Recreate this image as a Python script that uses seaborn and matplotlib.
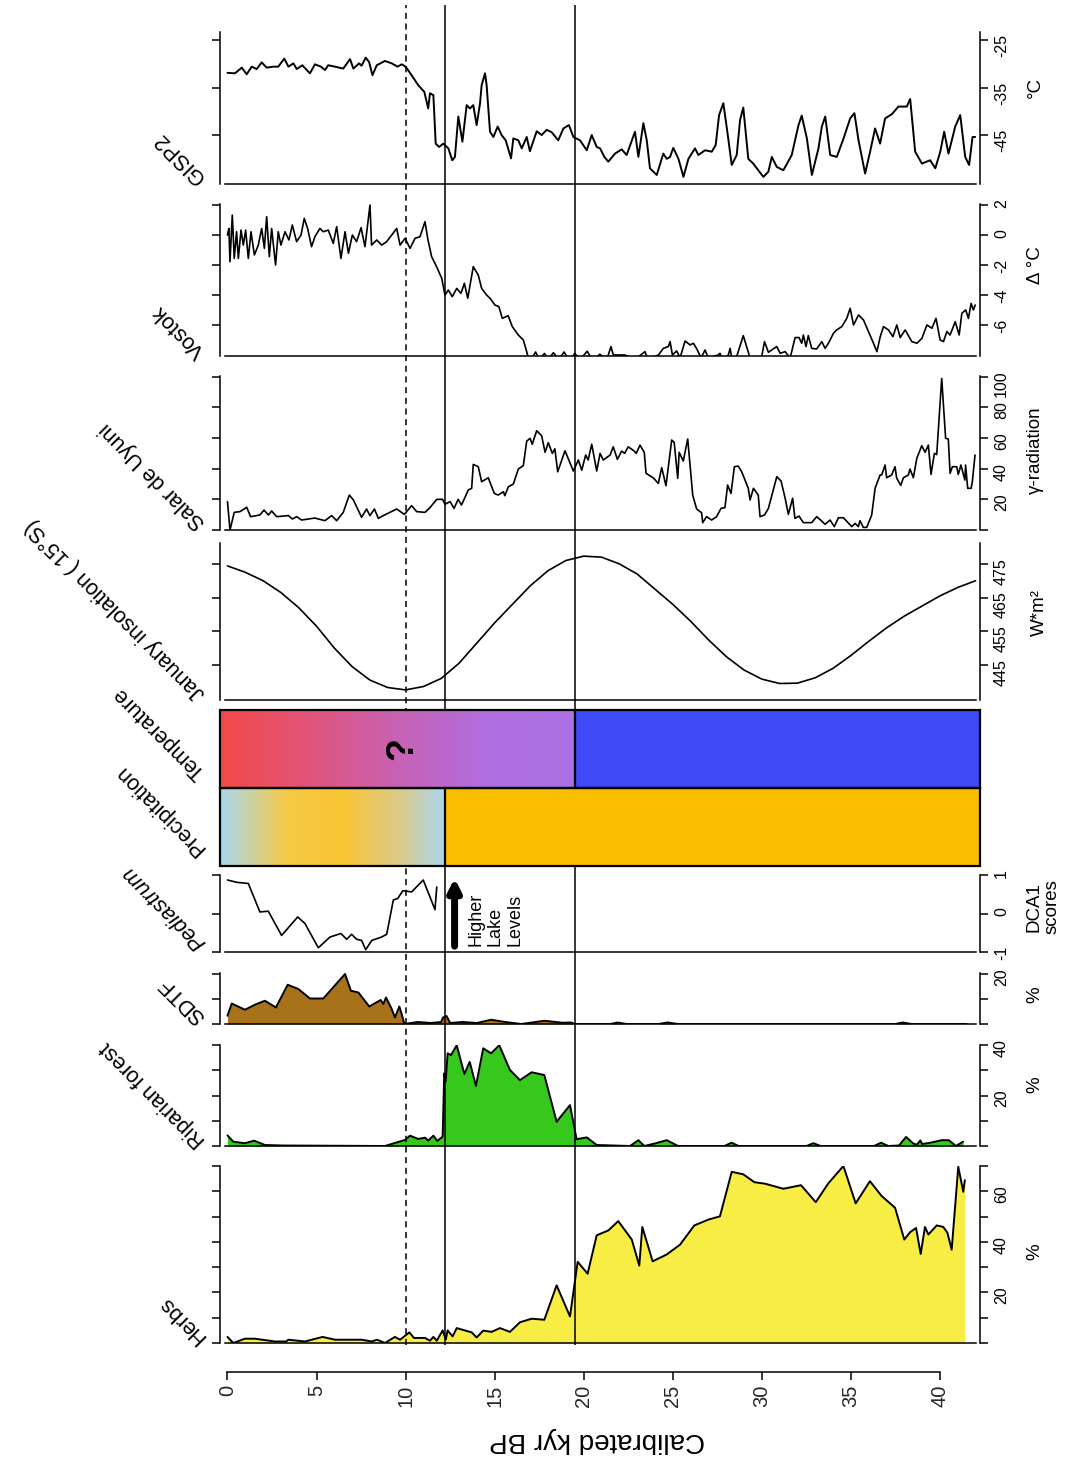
import numpy as np
import matplotlib
matplotlib.use("Agg")
import matplotlib.pyplot as plt
from matplotlib.colors import LinearSegmentedColormap
from matplotlib.patches import Rectangle
import seaborn as sns

# ---------------------------------------------------------------- data (kyr BP)
gisp2_age = [0, 0.42, 0.8, 1.08, 1.36, 1.64, 1.92, 2.2, 2.57, 2.85, 3.19, 3.42, 3.7, 3.89, 4.2,
             4.63, 4.91, 5.25, 5.47, 5.66, 6.04, 6.5, 6.88, 7.07, 7.39, 7.53, 7.76, 7.95, 8.14,
             8.38, 8.84, 9.22, 9.55, 9.78, 10.0, 10.34, 10.71, 11.05, 11.27, 11.37, 11.56, 11.69,
             11.88, 12.12, 12.4, 12.62, 12.77, 12.96, 13.19, 13.43, 13.61, 13.8, 13.99, 14.18,
             14.27, 14.46, 14.55, 14.74, 14.93, 15.17, 15.39, 15.62, 15.92, 16.05, 16.33, 16.52,
             16.8, 16.98, 17.36, 17.64, 17.92, 18.2, 18.57, 18.86, 19.17, 19.42, 19.79, 20.17,
             20.45, 20.73, 20.92, 21.16, 21.38, 21.76, 22.13, 22.41, 22.88, 23.07, 23.35, 23.54,
             23.72, 24.1, 24.47, 24.66, 24.85, 25.03, 25.32, 25.6, 25.88, 26.25, 26.44, 26.81,
             27.19, 27.41, 27.6, 27.84, 28.09, 28.31, 28.59, 28.78, 28.96, 29.24, 29.52, 29.8,
             30.09, 30.37, 30.56, 30.84, 31.21, 31.68, 32.06, 32.24, 32.53, 32.81, 33.18, 33.37,
             33.56, 33.84, 34.21, 34.59, 34.96, 35.2, 35.43, 35.8, 36.08, 36.36, 36.64, 36.92,
             37.3, 37.67, 38.14, 38.33, 38.61, 38.99, 39.45, 39.74, 40.02, 40.24, 40.48, 40.86,
             41.14, 41.42, 41.64, 41.83, 41.98]
gisp2_temp = [-31.9, -32.0, -30.8, -32.2, -30.6, -31.1, -29.7, -30.8, -30.6, -30.6, -28.9, -30.6,
              -29.9, -31.1, -30.3, -32.0, -30.1, -30.6, -31.3, -30.3, -30.6, -31.0, -29.0, -31.0,
              -29.9, -30.4, -28.7, -29.6, -32.4, -30.3, -29.4, -29.9, -30.6, -30.1, -30.6, -32.4,
              -34.5, -35.9, -39.4, -36.2, -36.6, -46.8, -47.5, -46.8, -47.8, -50.3, -49.6, -41.1,
              -46.4, -38.7, -39.4, -38.7, -42.9, -38.3, -34.5, -32.0, -34.5, -44.3, -45.4, -43.2,
              -45.0, -46.1, -49.9, -45.7, -46.1, -47.8, -45.4, -48.4, -44.2, -45.0, -43.9, -44.4,
              -46.1, -43.6, -42.9, -45.4, -46.1, -48.2, -45.0, -47.5, -47.8, -49.6, -50.6, -48.9,
              -48.0, -49.2, -44.3, -49.6, -42.5, -46.1, -52.0, -53.4, -48.9, -50.0, -49.6, -47.7,
              -50.0, -53.8, -50.0, -47.8, -49.2, -48.2, -48.5, -47.1, -40.8, -38.3, -45.0, -51.3,
              -49.2, -41.8, -39.2, -50.0, -51.0, -52.4, -53.8, -52.7, -49.6, -51.7, -52.4, -49.2,
              -42.9, -40.9, -45.7, -53.4, -47.8, -43.2, -41.1, -49.2, -49.6, -45.7, -41.5, -40.4,
              -46.1, -53.1, -48.5, -43.6, -46.8, -41.5, -40.6, -39.0, -39.0, -37.4, -48.5, -51.0,
              -50.3, -52.0, -48.5, -44.3, -48.9, -43.2, -40.8, -49.6, -51.3, -45.4, -45.4]

vostok_age = [0, 0.08, 0.14, 0.27, 0.38, 0.51, 0.61, 0.76, 0.89, 1.02, 1.17, 1.32, 1.51, 1.73,
              1.92, 2.07, 2.2, 2.35, 2.48, 2.7, 2.85, 3.0, 3.23, 3.45, 3.64, 3.88, 4.13, 4.31, 4.5,
              4.72, 4.91, 5.19, 5.38, 5.66, 5.94, 6.13, 6.37, 6.6, 6.79, 7.01, 7.25, 7.5, 7.72, 8.0,
              8.09, 8.38, 8.66, 8.94, 9.22, 9.5, 9.69, 9.97, 10.25, 10.53, 10.81, 11.09, 11.24,
              11.46, 11.74, 12.03, 12.21, 12.4, 12.62, 12.87, 13.11, 13.3, 13.49, 13.8, 14.08,
              14.27, 14.55, 14.74, 15.02, 15.24, 15.43, 15.76, 15.99, 16.33, 16.61, 16.8, 16.89,
              17.0, 17.3, 17.5, 17.8, 18.0, 18.3, 18.6, 18.9, 19.2, 19.5, 19.8, 20.2, 20.5, 20.9,
              21.3, 21.53, 21.66, 22.3, 22.88, 23.44, 23.6, 24.2, 24.47, 24.75, 24.85, 24.98,
              25.22, 25.41, 25.69, 25.97, 26.16, 26.35, 26.59, 26.81, 27.0, 27.56, 27.65, 27.8,
              28.12, 28.22, 28.31, 28.59, 28.96, 29.34, 29.98, 30.15, 30.37, 30.84, 31.03, 31.31,
              31.59, 31.87, 32.09, 32.24, 32.33, 32.48, 32.61, 32.8, 33.08, 33.37, 33.55, 33.74,
              34.02, 34.2, 34.49, 34.77, 34.96, 35.15, 35.43, 35.71, 35.99, 36.27, 36.46, 36.65,
              36.83, 37.11, 37.36, 37.58, 37.77, 38.05, 38.42, 38.71, 38.99, 39.27, 39.55, 39.78,
              40.01, 40.2, 40.39, 40.57, 40.86, 41.08, 41.23, 41.45, 41.6, 41.75, 41.88, 41.98]
vostok_dt = [0, 0.44, -1.78, 1.33, -1.56, 0.22, -1.56, 0.33, -0.67, 0.33, -1.56, 0.22, -1.33,
             -0.67, 0.44, -0.89, 1.22, -1.44, 0.44, -2.0, 0.22, -0.67, 0.22, -0.33, 0.67, -0.44,
             0.0, 1.11, 0.44, -0.78, -0.11, 0.44, 0.22, 0.33, -0.56, 0.56, -1.56, 0.22, -1.22, 0.0,
             -0.44, 0.49, -0.78, 2.0, -0.67, -0.33, -0.67, -0.44, 0.0, 0.44, -0.67, -0.22, -0.89,
             -0.22, -0.11, 0.89, -0.22, -1.44, -2.11, -2.89, -4.0, -3.67, -4.11, -3.56, -3.89,
             -3.22, -4.22, -2.11, -2.67, -3.56, -4.0, -4.22, -4.67, -4.78, -5.56, -5.38, -6.11,
             -6.67, -7.0, -7.78, -8.22, -8.4, -7.8, -8.3, -7.9, -8.3, -7.85, -8.3, -7.8, -8.4,
             -7.9, -8.3, -7.75, -8.4, -7.95, -8.3, -7.44, -8.0, -8.0, -8.3, -7.78, -8.3, -8.0,
             -7.56, -7.44, -7.11, -8.0, -7.73, -8.2, -7.07, -7.33, -7.22, -7.6, -8.2, -7.67, -8.2,
             -8.0, -7.89, -8.3, -8.0, -7.56, -8.2, -8.1, -6.71, -8.2, -8.2, -7.11, -7.82, -7.44,
             -7.89, -7.78, -8.2, -6.84, -6.84, -7.22, -6.67, -7.44, -6.71, -7.56, -7.6, -7.11,
             -7.56, -7.22, -6.56, -6.33, -6.11, -5.56, -4.89, -6.0, -5.33, -5.67, -6.44, -7.22,
             -7.78, -6.78, -6.11, -6.33, -6.78, -6.0, -6.84, -6.33, -7.11, -7.22, -6.89, -6.0,
             -6.22, -5.56, -7.0, -7.11, -6.44, -6.67, -5.78, -6.67, -5.22, -5.0, -5.56, -4.56,
             -5.0, -4.67]

uyuni_age = [0, 0.14, 0.38, 0.7, 1.08, 1.3, 1.82, 2.05, 2.3, 2.48, 2.76, 3.42, 3.64, 3.89, 4.16,
             4.9, 5.47, 5.85, 6.13, 6.5, 6.84, 7.07, 7.53, 7.81, 8.0, 8.25, 8.47, 8.75, 9.5, 9.93,
             10.34, 10.62, 11.09, 11.37, 11.75, 12.08, 12.21, 12.5, 12.72, 12.95, 13.14, 13.52,
             13.71, 13.8, 14.08, 14.27, 14.64, 14.98, 15.2, 15.49, 15.57, 15.77, 16.05, 16.33,
             16.61, 16.8, 16.99, 17.11, 17.36, 17.64, 17.83, 18.01, 18.24, 18.38, 18.54, 18.95,
             19.42, 19.7, 19.89, 20.11, 20.25, 20.45, 20.73, 20.92, 21.1, 21.48, 21.66, 21.89,
             22.13, 22.3, 22.5, 22.82, 22.95, 23.16, 23.4, 23.5, 23.92, 24.19, 24.38, 24.62,
             24.94, 25.08, 25.28, 25.36, 25.59, 25.84, 26.12, 26.34, 26.62, 26.68, 26.9, 27.18,
             27.46, 27.71, 27.93, 28.08, 28.27, 28.46, 28.68, 28.87, 29.24, 29.34, 29.53, 29.8,
             29.9, 30.15, 30.37, 30.84, 31.08, 31.31, 31.49, 31.73, 31.86, 32.09, 32.33, 32.8,
             33.08, 33.36, 33.55, 33.83, 34.07, 34.3, 34.58, 35.05, 35.24, 35.42, 35.51, 35.7,
             35.89, 36.17, 36.36, 36.64, 36.73, 36.92, 37.01, 37.29, 37.48, 37.57, 37.8, 37.95,
             38.23, 38.32, 38.51, 38.7, 38.98, 39.17, 39.35, 39.5, 39.69, 39.82, 40.1, 40.32,
             40.47, 40.57, 40.7, 40.94, 41.03, 41.18, 41.4, 41.44, 41.56, 41.75, 41.82, 41.97]
uyuni_gamma = [18.5, 0, 11.5, 12, 14.8, 8.7, 9.8, 13, 9.8, 12.4, 8.7, 9.4, 7.2, 8.7, 6.5, 7.8,
               6.1, 9.4, 6.1, 11.5, 22.8, 19.6, 8.3, 13.7, 9.4, 13.7, 7.6, 9.4, 13.7, 10.2, 15.9,
               12, 11.5, 14.6, 20, 20, 16.8, 18.5, 14.1, 20, 16.3, 26.1, 27.2, 42.8, 41.3, 31.5,
               34.1, 23.9, 22.8, 25, 22.4, 28.2, 30, 39.8, 42, 58, 59.8, 55.9, 64.8, 61.5, 50.7,
               57, 50, 53, 38, 51.7, 38.5, 45.7, 39, 48.9, 45.7, 56, 38.5, 50, 45.7, 48.9, 54.3,
               46.1, 51.5, 50, 54.3, 51.7, 50, 55.4, 50.7, 37, 33.9, 30.4, 40.7, 28.9, 58.7, 57.2,
               33.7, 50.7, 45, 59.4, 22.8, 13.7, 11.3, 4.8, 8.7, 6.5, 8.7, 14.1, 14.6, 29.3, 23.9,
               41.3, 41.7, 38, 27.2, 19.6, 27.2, 22.8, 8.7, 9.8, 14.1, 34.8, 32, 20.7, 10.2, 20.7,
               7.6, 9.1, 4.8, 4.8, 8.7, 5.9, 3.7, 6.5, 2.2, 8.0, 8.0, 2.2, 4.3, 2.2, 6.1, 1.7, 1.7,
               9.8, 27.2, 35.9, 35.9, 42.4, 34.1, 35.9, 41.3, 33.9, 29.1, 34.1, 35.9, 39.8, 34.1,
               46.7, 55, 50.7, 55.4, 36.3, 50, 49.2, 98.9, 59.8, 59.4, 37, 41.3, 41.3, 36.3, 42.4,
               32.6, 42.4, 27.2, 27.2, 31.5, 48.9]

insol_age = list(range(0, 43))
insol_wm2 = [474.4, 472.5, 470.0, 466.5, 462.0, 456.5, 450.0, 444.5, 440.5, 438.3, 437.6, 438.6,
             441.0, 445.5, 451.5, 457.5, 463.0, 468.5, 473.0, 476.0, 477.3, 477.0, 475.0, 472.0,
             467.5, 463.0, 458.0, 452.5, 447.5, 443.5, 440.8, 439.5, 439.6, 441.2, 444.0, 447.8,
             452.0, 456.0, 459.5, 462.5, 465.5, 468.0, 470.0]

temp_change_age = 19.5      # warm/transitional vs. cold
precip_change_age = 12.2    # variable vs. wet

pedi_age = [0, 0.52, 1.17, 1.82, 2.29, 3.04, 3.94, 4.35, 5.10, 5.76, 6.37, 6.69, 6.97, 7.25,
            7.53, 7.76, 8.10, 8.66, 8.94, 9.31, 9.56, 9.84, 10.06, 10.34, 10.99, 11.37, 11.65,
            11.75]
pedi_dca1 = [0.87, 0.81, 0.78, 0.04, 0.06, -0.57, -0.09, -0.26, -0.89, -0.61, -0.52, -0.67,
             -0.54, -0.67, -0.70, -0.94, -0.70, -0.61, -0.54, 0.35, 0.39, 0.59, 0.58, 0.56, 0.87,
             0.43, 0.10, 0.69]

sdtf_age = [0, 0.24, 0.98, 1.54, 2.1, 2.72, 3.38, 3.98, 4.63, 5.38, 6.6, 6.93, 7.35, 7.96, 8.6,
            8.75, 8.9, 9.22, 9.4, 9.65, 9.78, 9.93, 10.7, 11.4, 12.0, 12.1, 12.3, 12.5, 13.2, 14.0,
            14.8, 15.6, 16.5, 17.8, 18.8, 19.3, 19.5, 21.5, 21.9, 22.4, 24.2, 24.7, 25.3, 37.5,
            37.9, 38.4, 41.5]
sdtf_pct = [3.3, 8.2, 5.7, 7.7, 9.3, 6.6, 15.7, 14.0, 10.2, 10.2, 20.0, 13.3, 12.6, 7.0, 9.6,
            8.0, 10.6, 6.0, 2.6, 7.0, 4.0, 0.0, 0.8, 0.4, 0.8, 2.6, 3.2, 0.4, 0.8, 0.4, 1.7, 0.8,
            0.0, 1.3, 0.5, 0.6, 0.0, 0.0, 0.6, 0.0, 0.0, 0.6, 0.0, 0.0, 0.6, 0.0, 0.0]

ripa_age = [0, 0.33, 0.98, 1.5, 2.1, 3.1, 8.84, 9.97, 10.25, 10.7, 11.1, 11.27, 11.56, 11.78,
            12.08, 12.17, 12.25, 12.36, 12.55, 12.87, 13.3, 13.6, 13.95, 14.36, 14.8, 15.26, 15.86,
            16.42, 17.08, 17.79, 18.48, 19.23, 19.6, 20.17, 20.73, 22.6, 23.07, 23.4, 24.0, 24.66,
            25.3, 27.9, 28.3, 28.7, 32.5, 32.9, 33.3, 36.3, 36.7, 37.1, 37.7, 38.1, 38.5, 38.7,
            38.9, 39.0, 39.4, 40.1, 40.5, 40.9, 41.3]
ripa_pct = [4.2, 1.7, 1.1, 2.1, 0.4, 0.2, 0.0, 2.4, 4.1, 2.8, 3.3, 2.1, 4.1, 2.0, 3.7, 28.8, 25.5,
            36.7, 36.0, 39.9, 28.5, 33.3, 23.8, 38.7, 36.7, 39.9, 30.1, 26.1, 29.2, 28.1, 9.6,
            16.2, 2.7, 3.4, 0.4, 0.0, 2.3, 0.0, 1.0, 2.3, 0.0, 0.0, 1.3, 0.0, 0.0, 1.1, 0.0, 0.0,
            1.3, 0.0, 0.2, 3.6, 1.0, 0.5, 2.2, 0.8, 1.2, 2.3, 2.3, 0.0, 1.7]

herbs_age = [0, 0.33, 0.98, 1.54, 2.67, 3.3, 3.41, 4.35, 5.34, 6.04, 7.53, 8.1, 8.4, 8.84, 9.4,
             9.69, 10.21, 10.47, 11.09, 11.37, 11.56, 11.75, 12.08, 12.26, 12.36, 12.64, 12.87,
             13.71, 13.99, 14.36, 14.83, 15.3, 15.86, 16.42, 17.08, 17.79, 18.48, 19.23, 19.66,
             20.22, 20.73, 21.38, 21.94, 22.7, 23.12, 23.29, 23.87, 24.66, 25.41, 26.21, 27.0,
             27.65, 28.31, 28.96, 29.58, 30.18, 31.21, 32.2, 33.03, 33.73, 34.58, 35.27, 36.07,
             36.73, 37.48, 38.0, 38.32, 38.66, 38.92, 39.16, 39.35, 39.82, 40.19, 40.42, 40.66,
             41.03, 41.31, 41.4]
herbs_pct = [2.4, 0.0, 1.7, 1.7, 0.6, 0.6, 1.3, 0.6, 2.4, 1.3, 1.3, 0.6, 1.3, 0.0, 2.4, 1.3, 4.2,
             2.0, 2.0, 0.9, 2.4, 0.9, 5.0, 1.4, 5.0, 2.6, 5.9, 4.2, 2.2, 4.9, 4.4, 5.9, 4.4, 8.2,
             9.6, 9.2, 22.8, 10.5, 32.1, 27.4, 42.6, 44.5, 48.2, 40.9, 30.6, 45.9, 32.3, 35.0,
             38.9, 46.5, 48.8, 50.1, 67.7, 66.7, 63.6, 63.0, 61.0, 62.4, 55.7, 63.1, 70.0, 55.2,
             64.0, 58.1, 53.5, 40.9, 43.8, 45.5, 35.2, 45.9, 42.9, 46.5, 45.9, 43.6, 36.9, 69.7,
             59.8, 64.4]

age_ticks = [0, 5, 10, 15, 20, 25, 30, 35, 40]
zone_lines = [12.2, 19.5]
dashed_line = 10.0

# ---------------------------------------------------------------- figure set-up
W, H = 1069, 1461
sns.set_theme(style="white")
plt.rcParams["font.family"] = ["Liberation Sans", "DejaVu Sans"]
plt.rcParams["axes.linewidth"] = 1.1

fig = plt.figure(figsize=(W / 100, H / 100), dpi=100)
XL, XR = -0.42, 42.25
PX0, PX1 = 220, 980


def fig_x(px):
    return px / W


def fig_y(py):
    return 1 - py / H


def add_strip(top, bottom, z=2):
    ax = fig.add_axes([fig_x(PX0), fig_y(bottom), (PX1 - PX0) / W, (bottom - top) / H],
                      zorder=z)
    ax.set_facecolor("none")
    return ax


def frame(ax, ylim, ticks, labels):
    ax.set_xlim(XL, XR)
    ax.set_ylim(*ylim)
    ax.set_xlabel("")
    ax.set_ylabel("")
    ax.grid(False)
    ax.spines["top"].set_visible(False)
    for s in ("left", "right", "bottom"):
        ax.spines[s].set_visible(True)
        ax.spines[s].set_color("black")
        ax.spines[s].set_linewidth(1.1)
    ax.spines["bottom"].set_bounds(-0.15, 42.05)
    ax.set_xticks([])
    ax.set_yticks(ticks)
    ax.set_yticklabels(labels)
    ax.tick_params(axis="y", which="both", left=True, right=True, labelleft=False,
                   labelright=True, direction="out", length=6, width=1.1, color="black",
                   labelsize=11.5, labelrotation=90, pad=4, labelcolor="black")


def curve(ax, x, y, lw=1.1):
    sns.lineplot(x=x, y=y, ax=ax, color="black", linewidth=lw, estimator=None,
                 sort=False, legend=False)


def filled(ax, x, y, color):
    ax.fill_between(x, y, 0, color=color, linewidth=0)
    curve(ax, x, y, lw=1.4)


# GISP2
ax = add_strip(32, 184)
curve(ax, gisp2_age, gisp2_temp, lw=1.4)
frame(ax, (-55.3, -23.3), [-45, -35, -25], ["-45", "-35", "-25"])

# Vostok
ax = add_strip(204, 356)
curve(ax, vostok_age, vostok_dt, lw=1.2)
frame(ax, (-8.07, 2.07), [-6, -4, -2, 0, 2], ["-6", "-4", "-2", "0", "2"])

# Salar de Uyuni
ax = add_strip(376, 530)
curve(ax, uyuni_age, uyuni_gamma, lw=1.2)
frame(ax, (0, 100.5), [0, 20, 40, 60, 80, 100], ["", "20", "40", "60", "80", "100"])

# January insolation
ax = add_strip(543, 700)
curve(ax, insol_age, insol_wm2, lw=1.2)
frame(ax, (434.6, 481.2), [445, 455, 465, 475], ["445", "455", "465", "475"])

# Pediastrum
ax_ped = add_strip(875, 952)
curve(ax_ped, pedi_age, pedi_dca1, lw=1.2)
frame(ax_ped, (-1.0, 1.0), [-1, 0, 1], ["-1", "0", "1"])
ax_ped.annotate("", xy=(12.75, 0.92), xytext=(12.75, -0.85),
                arrowprops=dict(arrowstyle="-|>,head_width=0.3,head_length=0.6",
                                lw=5, color="black", shrinkA=0, shrinkB=0))

# SDTF
ax = add_strip(973, 1024)
filled(ax, sdtf_age, sdtf_pct, "#A8721B")
frame(ax, (0, 20.4), [0, 10, 20], ["", "", "20"])

# Riparian forest
ax = add_strip(1045, 1146)
filled(ax, ripa_age, ripa_pct, "#36C81C")
frame(ax, (0, 40), [0, 10, 20, 30, 40], ["", "", "20", "", "40"])

# Herbs
ax = add_strip(1166, 1343)
filled(ax, herbs_age, herbs_pct, "#F8ED45")
frame(ax, (0, 70), list(range(0, 80, 10)), ["", "", "20", "", "40", "", "60", ""])

# Age axis
ax_age = fig.add_axes([fig_x(PX0), fig_y(1372), (PX1 - PX0) / W, 10 / H], zorder=2)
ax_age.set_facecolor("none")
ax_age.set_xlim(XL, XR)
for s in ("left", "right", "top"):
    ax_age.spines[s].set_visible(False)
ax_age.spines["bottom"].set_color("black")
ax_age.spines["bottom"].set_linewidth(1.1)
ax_age.spines["bottom"].set_bounds(age_ticks[0], age_ticks[-1])
ax_age.set_yticks([])
ax_age.set_xticks(age_ticks)
ax_age.set_xticklabels([str(t) for t in age_ticks])
ax_age.tick_params(axis="x", bottom=True, direction="out", length=6, width=1.1,
                   color="black", labelsize=14.5, labelrotation=90, pad=3)

# Zone boundaries across all strips
ov = fig.add_axes([fig_x(PX0), fig_y(1345), (PX1 - PX0) / W, (1345 - 5) / H], zorder=5)
ov.set_xlim(XL, XR)
ov.set_ylim(0, 1)
ov.axis("off")
for a in zone_lines:
    ov.axvline(a, color="black", lw=1.1)
ov.axvline(dashed_line, color="black", lw=1.1, linestyle=(0, (4, 3)))

# Temperature / precipitation bands
bx = add_strip(710, 866, z=6)
bx.set_xlim(XL, XR)
bx.set_ylim(0, 2)
bx.axis("off")
ramp = np.linspace(0, 1, 256)[None, :]
temp_cmap = LinearSegmentedColormap.from_list(
    "temp", ["#F34A4A", "#E0557A", "#C862B4", "#B06EE0", "#AA72E6"])
prec_cmap = LinearSegmentedColormap.from_list(
    "prec", [(0.0, "#A9D8F0"), (0.3, "#F6C945"), (0.55, "#F9C634"), (0.8, "#DCC98A"),
             (1.0, "#A9D8F0")])
bx.imshow(ramp, cmap=temp_cmap, extent=(XL, temp_change_age, 1, 2), aspect="auto",
          interpolation="bilinear")
bx.imshow(ramp, cmap=prec_cmap, extent=(XL, precip_change_age, 0, 1), aspect="auto",
          interpolation="bilinear")
bx.add_patch(Rectangle((temp_change_age, 1), XR - temp_change_age, 1, facecolor="#3E4AF6",
                       edgecolor="none"))
bx.add_patch(Rectangle((precip_change_age, 0), XR - precip_change_age, 1, facecolor="#F9BE00",
                       edgecolor="none"))
for (x0, x1, y0, y1) in [(XL, XR, 1, 2), (XL, XR, 0, 1)]:
    bx.add_patch(Rectangle((x0, y0), x1 - x0, y1 - y0, facecolor="none", edgecolor="black",
                           lw=1.6, clip_on=False))
bx.plot([temp_change_age, temp_change_age], [1, 2], color="black", lw=1.6)
bx.plot([precip_change_age, precip_change_age], [0, 1], color="black", lw=1.6)
bx.text(9.8, 1.5, "?", rotation=90, ha="center", va="center", fontsize=27,
        fontweight="bold", color="black")
bx.set_xlim(XL, XR)
bx.set_ylim(0, 2)

# Strip titles, set diagonally above each record
titles = [("GISP2", 176, "normal"), ("Vostok", 350, "normal"),
          ("Salar de Uyuni", 522, "normal"), ("January insolation ( 15°S)", 693, "normal"),
          ("Temperature", 772, "normal"), ("Precipitation", 848, "normal"),
          ("Pediastrum", 942, "italic"), ("SDTF", 1016, "normal"),
          ("Riparian forest", 1140, "normal"), ("Herbs", 1336, "normal")]
for text, py, style in titles:
    fig.text(fig_x(206), fig_y(py), text, rotation=135, rotation_mode="anchor",
             ha="left", va="baseline", fontsize=15.5, fontstyle=style, color="black")

# Units beside each scale
units = [("°C", 1035, 88), ("Δ °C", 1035, 265), ("γ-radiation", 1035, 450),
         ("W*m²", 1039, 612), ("DCA1\nscores", 1043, 907), ("%", 1035, 995),
         ("%", 1035, 1085), ("%", 1035, 1252)]
for text, px, py in units:
    fig.text(fig_x(px), fig_y(py), text, rotation=90, ha="center", va="center",
             fontsize=13.5, multialignment="center", linespacing=1.1, color="black")

fig.text(fig_x(467), fig_y(946), "Higher\nLake\nLevels", rotation=90, ha="left",
         va="bottom", fontsize=13, multialignment="left", linespacing=1.2, color="black",
         zorder=7)

fig.text(fig_x(597), fig_y(1440), "Calibrated kyr BP", rotation=180, ha="center",
         va="center", fontsize=20, color="black")

fig.savefig("out.png", dpi=100)
